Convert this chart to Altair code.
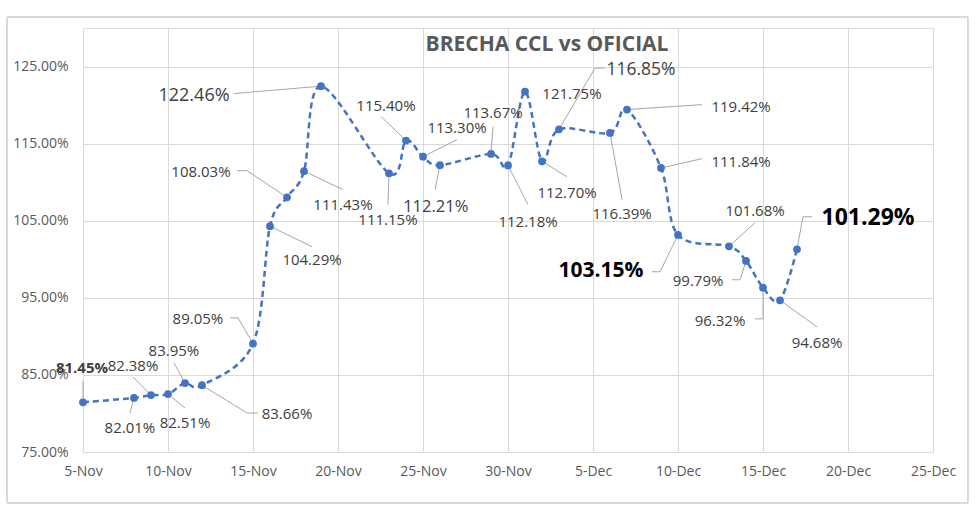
import altair as alt
import pandas as pd

# ---- data ----
DATES = ["2022-11-05", "2022-11-08", "2022-11-09", "2022-11-10", "2022-11-11", "2022-11-12",
         "2022-11-15", "2022-11-16", "2022-11-17", "2022-11-18", "2022-11-19", "2022-11-23",
         "2022-11-24", "2022-11-25", "2022-11-26", "2022-11-29", "2022-11-30", "2022-12-01",
         "2022-12-02", "2022-12-03", "2022-12-06", "2022-12-07", "2022-12-09", "2022-12-10",
         "2022-12-13", "2022-12-14", "2022-12-15", "2022-12-16", "2022-12-17"]
VALUES = [81.45, 82.01, 82.38, 82.51, 83.95, 83.66, 89.05, 104.29, 108.03, 111.43, 122.46, 111.15,
          115.40, 113.30, 112.21, 113.67, 112.18, 121.75, 112.70, 116.85, 116.39, 119.42, 111.84,
          103.15, 101.68, 99.79, 96.32, 94.68, 101.29]
TICK_DATES = ["2022-11-05", "2022-11-10", "2022-11-15", "2022-11-20", "2022-11-25", "2022-11-30",
              "2022-12-05", "2022-12-10", "2022-12-15", "2022-12-20", "2022-12-25"]
Y_TICKS = [75, 85, 95, 105, 115, 125]
TITLE = "BRECHA CCL vs OFICIAL"

# ---- label layout (day offset from 5-Nov, value) ----
BASE = pd.Timestamp("2022-11-05")
LABEL_POS = [(-0.06, 85.91), (2.76, 78.12), (2.94, 86.17), (6.0, 78.77), (5.35, 88.12), (12.0, 79.94),
             (6.76, 92.27), (13.47, 99.94), (6.94, 111.36), (15.29, 107.08), (6.53, 121.23),
             (17.94, 105.13), (17.82, 119.94), (22.0, 117.08), (20.75, 106.82), (24.12, 119.03),
             (26.18, 104.87), (28.76, 121.49), (28.47, 108.64), (32.82, 124.55), (31.71, 105.91),
             (38.71, 119.81), (38.71, 112.66), (30.47, 98.51), (39.53, 106.30), (36.18, 97.21),
             (37.47, 92.01), (43.18, 89.16), (46.18, 105.39)]
LEADERS = [[(0, 84.22)], [(2.76, 80.06)], [(2.94, 84.74)], [(6.0, 80.71)], [(5.35, 86.56)],
           [(10.29, 80.06), (9.65, 80.06)], [(8.65, 92.40), (9.12, 92.40)], [(13.47, 101.62)],
           [(9.06, 111.49), (9.65, 111.49)], [(15.29, 109.03)], [(8.88, 121.49)], [(17.94, 107.08)],
           [(17.53, 118.51)], [(22.0, 115.52)], [(20.71, 109.03)], [(24.12, 117.21)],
           [(26.18, 107.08)], [], [(28.47, 110.71)], [(30.71, 124.8), (30.12, 124.8)],
           [(31.71, 107.73)], [(36.41, 120.06)], [(36.41, 113.05)],
           [(33.47, 98.38), (33.94, 98.38)], [(39.53, 104.74)], [(38.18, 97.34), (38.65, 97.34)],
           [(39.53, 92.27), (40.0, 92.27)], [(43.18, 91.23)], [(42.88, 105.52), (42.35, 105.52)]]
FONT_SIZE = {10: 18, 14: 16.5, 19: 17.5, 23: 21, 28: 23}
BOLD = {0, 23, 28}
BLACK = {23, 28}

FONT = "Open Sans"
BLUE = "#4472C4"

pts = pd.DataFrame({"date": pd.to_datetime(DATES), "value": VALUES})

lab_rows = []
for i, ((dx, ly), v) in enumerate(zip(LABEL_POS, VALUES)):
    lab_rows.append({
        "id": i,
        "date": BASE + pd.Timedelta(days=dx),
        "value": ly,
        "text": f"{v:.2f}%",
        "fs": FONT_SIZE.get(i, 15),
        "col": "#000000" if i in BLACK else "#404040",
        "bold": i in BOLD,
    })
labels = pd.DataFrame(lab_rows)

lead_rows = []
for i, segs in enumerate(LEADERS):
    if not segs:
        continue
    k = 0
    for dx, ly in segs:
        lead_rows.append({"id": i, "ord": k, "date": BASE + pd.Timedelta(days=dx), "value": ly})
        k += 1
    lead_rows.append({"id": i, "ord": k, "date": pd.Timestamp(DATES[i]), "value": VALUES[i]})
leaders = pd.DataFrame(lead_rows)

tick_dt = []
for d in TICK_DATES:
    t = pd.Timestamp(d)
    tick_dt.append(alt.DateTime(year=t.year, month=t.month, date=t.day))

x_scale = alt.Scale(domain=[tick_dt[0], tick_dt[-1]], nice=False)
y_scale = alt.Scale(domain=[75, 130], nice=False, zero=False)

x_enc = alt.X("date:T", scale=x_scale,
              axis=alt.Axis(values=tick_dt, format="%-d-%b", title=None, grid=True,
                            gridColor="#d9d9d9", domainColor="#d9d9d9", ticks=False,
                            labelFont=FONT, labelFontSize=14, labelColor="#595959",
                            labelPadding=12, labelFlush=False, labelOverlap=False))
y_enc = alt.Y("value:Q", scale=y_scale,
              axis=alt.Axis(values=Y_TICKS, labelExpr="format(datum.value, '.2f') + '%'",
                            title=None, grid=True, gridColor="#d9d9d9", domain=False,
                            ticks=False, labelFont=FONT, labelFontSize=14,
                            labelColor="#595959", labelPadding=15))

base_pts = alt.Chart(pts)

line = base_pts.mark_line(interpolate="cardinal", strokeDash=[6, 4], strokeWidth=2.5,
                          color=BLUE).encode(x=x_enc, y=y_enc)
dots = base_pts.mark_point(filled=True, size=60, color=BLUE, opacity=1).encode(
    x="date:T", y="value:Q")

lead = alt.Chart(leaders).mark_line(color="#a6a6a6", strokeWidth=1).encode(
    x="date:T", y="value:Q", detail="id:N", order="ord:Q")

txt_norm = alt.Chart(labels).transform_filter("!datum.bold").mark_text(
    font=FONT, align="center", baseline="middle").encode(
    x="date:T", y="value:Q", text="text:N",
    size=alt.Size("fs:Q", scale=None), color=alt.Color("col:N", scale=None))
txt_bold = alt.Chart(labels).transform_filter("datum.bold").mark_text(
    font=FONT, fontWeight="bold", align="center", baseline="middle").encode(
    x="date:T", y="value:Q", text="text:N",
    size=alt.Size("fs:Q", scale=None), color=alt.Color("col:N", scale=None))

frame = alt.Chart(pts).mark_rect(fill=None, stroke="#d9d9d9", strokeWidth=1).encode(
    x=alt.value(-76), x2=alt.value(885), y=alt.value(-11), y2=alt.value(475))

chart = alt.layer(frame, lead, line, dots, txt_norm, txt_bold).properties(
    width=850, height=424,
    title=alt.TitleParams(TITLE, font=FONT, fontSize=21, fontWeight="bold", color="#595959",
                          anchor="middle", frame="group", offset=0, dx=39, dy=55,
                          baseline="alphabetic"),
    autosize=alt.AutoSizeParams(type="none"),
    padding={"left": 83, "top": 28, "right": 47, "bottom": 59},
).configure_view(stroke=None).configure(background="white")

chart.save("out.html", embed_options={"renderer": "svg", "actions": False})
